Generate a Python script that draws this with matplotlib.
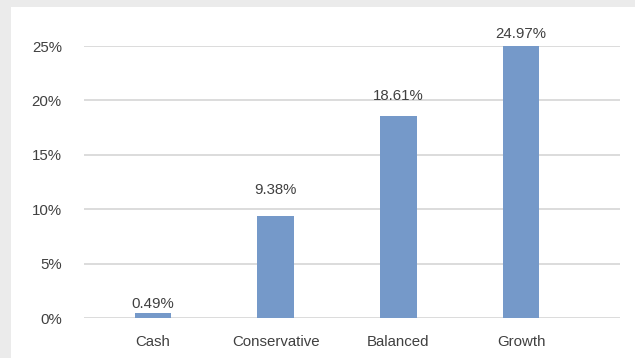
import matplotlib
matplotlib.use("Agg")
import matplotlib.pyplot as plt
from matplotlib.patches import Rectangle

categories = ["Cash", "Conservative", "Balanced", "Growth"]
values = [0.49, 9.38, 18.61, 24.97]
yticks = [0, 5, 10, 15, 20, 25]
ytick_labels = ["0%", "5%", "10%", "15%", "20%", "25%"]
# gap (points) between bar top and value label baseline, as in the reference
label_gaps = [3.6, 15.8, 11.5, 5.8]

plt.rcParams['font.family'] = ['Liberation Sans', 'DejaVu Sans']
text_color = "#404040"
fs = 10.8

fig = plt.figure(figsize=(6.35, 3.58), dpi=100, facecolor="#ebebeb")
fig.patches.append(Rectangle((11/635, 0), 1 - 11/635, 1 - 7/358,
                             transform=fig.transFigure, facecolor="white",
                             edgecolor="none", zorder=-10))

ax = fig.add_axes([84/635, 1 - 318/358, (620 - 84)/635, (318 - 46)/358])
ax.set_zorder(5)
ax.set_facecolor("none")
x = list(range(len(categories)))
bars = ax.bar(x, values, width=0.30, color="#7599c9", zorder=3)

for xi, v, g in zip(x, values, label_gaps):
    ax.annotate(f"{v:.2f}%", (xi, v), xytext=(0, g), textcoords="offset points",
                ha="center", va="baseline", fontsize=fs, color=text_color,
                annotation_clip=False)

ax.set_xlim(-0.5625, 3.807)
ax.set_ylim(0, 25)
ax.set_yticks(yticks)
ax.set_yticklabels(ytick_labels)
ax.set_xticks(x)
ax.set_xticklabels(categories)
ax.yaxis.grid(True, color="#d9d9d9", linewidth=1.3, zorder=0)
ax.set_axisbelow(True)
for s in ax.spines.values():
    s.set_visible(False)
ax.tick_params(axis="both", length=0, labelsize=fs, labelcolor=text_color)
ax.tick_params(axis="y", pad=16)
ax.tick_params(axis="x", pad=12)

fig.savefig("out.png", dpi=100, facecolor=fig.get_facecolor())
